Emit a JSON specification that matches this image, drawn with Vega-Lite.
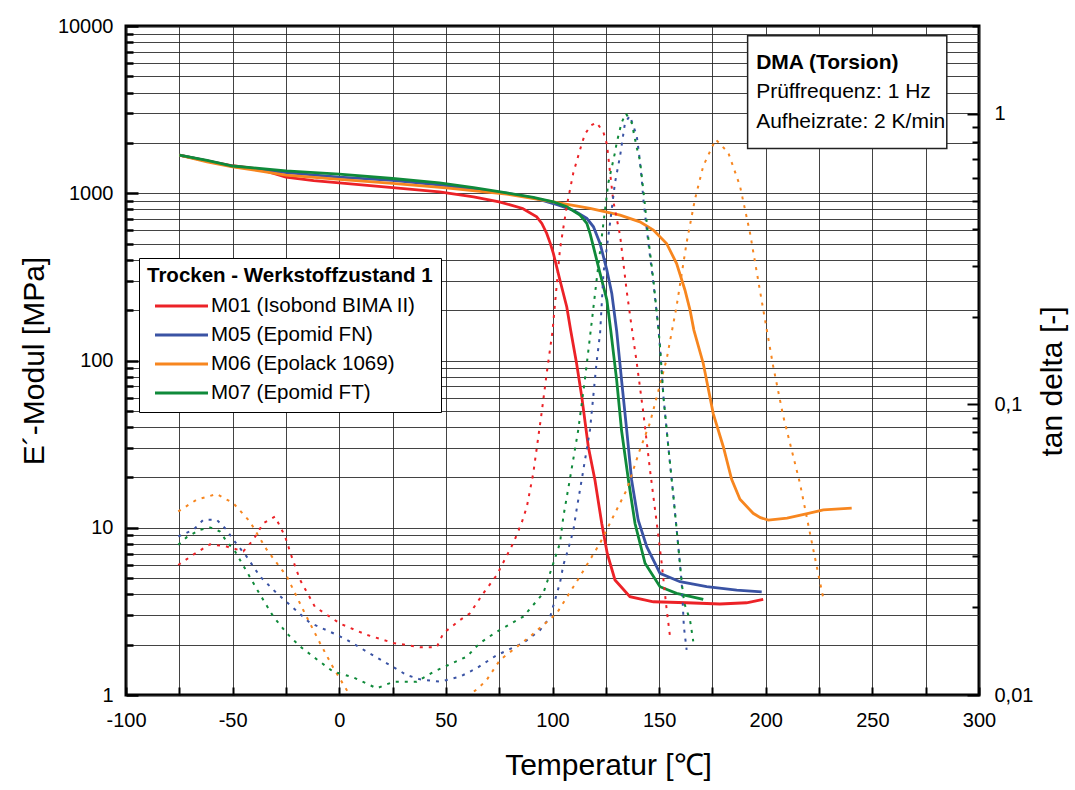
{
  "$schema": "https://vega.github.io/schema/vega-lite/v6.json",
  "width": 853,
  "height": 669,
  "autosize": {"type": "none"},
  "padding": {"left": 126, "top": 26, "right": 96, "bottom": 95},
  "background": "white",
  "config": {
    "view": {"stroke": "#000", "strokeWidth": 3},
    "font": "Liberation Sans",
    "axis": {
      "labelFont": "Liberation Sans",
      "labelFontSize": 20,
      "labelColor": "#000",
      "titleFont": "Liberation Sans",
      "titleFontSize": 30,
      "titleFontWeight": "normal",
      "titleColor": "#000",
      "domain": false,
      "tickColor": "#000",
      "gridColor": "#222",
      "gridWidth": 1,
      "gridOpacity": 0.85,
      "labelFlush": false,
      "labelOverlap": false
    }
  },
  "datasets": {
    "emod": [
      {"s": "M01 (Isobond BIMA II)", "T": -75, "E": 1690},
      {"s": "M01 (Isobond BIMA II)", "T": -62, "E": 1560},
      {"s": "M01 (Isobond BIMA II)", "T": -50, "E": 1460},
      {"s": "M01 (Isobond BIMA II)", "T": -37, "E": 1390},
      {"s": "M01 (Isobond BIMA II)", "T": -25, "E": 1250},
      {"s": "M01 (Isobond BIMA II)", "T": -12, "E": 1190},
      {"s": "M01 (Isobond BIMA II)", "T": 0, "E": 1155},
      {"s": "M01 (Isobond BIMA II)", "T": 25, "E": 1080},
      {"s": "M01 (Isobond BIMA II)", "T": 47, "E": 1019},
      {"s": "M01 (Isobond BIMA II)", "T": 63, "E": 952},
      {"s": "M01 (Isobond BIMA II)", "T": 75, "E": 889},
      {"s": "M01 (Isobond BIMA II)", "T": 86, "E": 811},
      {"s": "M01 (Isobond BIMA II)", "T": 92.6, "E": 722},
      {"s": "M01 (Isobond BIMA II)", "T": 95, "E": 660},
      {"s": "M01 (Isobond BIMA II)", "T": 97.3, "E": 575},
      {"s": "M01 (Isobond BIMA II)", "T": 99, "E": 500},
      {"s": "M01 (Isobond BIMA II)", "T": 100.4, "E": 437},
      {"s": "M01 (Isobond BIMA II)", "T": 103.5, "E": 302},
      {"s": "M01 (Isobond BIMA II)", "T": 106.7, "E": 209},
      {"s": "M01 (Isobond BIMA II)", "T": 108.5, "E": 152},
      {"s": "M01 (Isobond BIMA II)", "T": 111.3, "E": 96},
      {"s": "M01 (Isobond BIMA II)", "T": 113.7, "E": 61},
      {"s": "M01 (Isobond BIMA II)", "T": 116.8, "E": 30.5},
      {"s": "M01 (Isobond BIMA II)", "T": 119.9, "E": 19.3},
      {"s": "M01 (Isobond BIMA II)", "T": 123.1, "E": 10.6},
      {"s": "M01 (Isobond BIMA II)", "T": 125.7, "E": 7.0},
      {"s": "M01 (Isobond BIMA II)", "T": 129.3, "E": 4.87},
      {"s": "M01 (Isobond BIMA II)", "T": 136.3, "E": 3.87},
      {"s": "M01 (Isobond BIMA II)", "T": 147.3, "E": 3.61},
      {"s": "M01 (Isobond BIMA II)", "T": 163, "E": 3.56},
      {"s": "M01 (Isobond BIMA II)", "T": 178.5, "E": 3.5},
      {"s": "M01 (Isobond BIMA II)", "T": 191, "E": 3.56},
      {"s": "M01 (Isobond BIMA II)", "T": 198.8, "E": 3.73},
      {"s": "M05 (Epomid FN)", "T": -75, "E": 1690},
      {"s": "M05 (Epomid FN)", "T": -62, "E": 1560},
      {"s": "M05 (Epomid FN)", "T": -50, "E": 1450},
      {"s": "M05 (Epomid FN)", "T": -25, "E": 1330},
      {"s": "M05 (Epomid FN)", "T": 0, "E": 1250},
      {"s": "M05 (Epomid FN)", "T": 25, "E": 1195},
      {"s": "M05 (Epomid FN)", "T": 50, "E": 1110},
      {"s": "M05 (Epomid FN)", "T": 63, "E": 1060},
      {"s": "M05 (Epomid FN)", "T": 78.5, "E": 1000},
      {"s": "M05 (Epomid FN)", "T": 91, "E": 940},
      {"s": "M05 (Epomid FN)", "T": 100.4, "E": 868},
      {"s": "M05 (Epomid FN)", "T": 109.8, "E": 792},
      {"s": "M05 (Epomid FN)", "T": 116.1, "E": 707},
      {"s": "M05 (Epomid FN)", "T": 119.2, "E": 630},
      {"s": "M05 (Epomid FN)", "T": 122.3, "E": 501},
      {"s": "M05 (Epomid FN)", "T": 125.5, "E": 347},
      {"s": "M05 (Epomid FN)", "T": 127.8, "E": 252},
      {"s": "M05 (Epomid FN)", "T": 130.1, "E": 150},
      {"s": "M05 (Epomid FN)", "T": 132.4, "E": 76},
      {"s": "M05 (Epomid FN)", "T": 134.8, "E": 38.4},
      {"s": "M05 (Epomid FN)", "T": 137.1, "E": 19.3},
      {"s": "M05 (Epomid FN)", "T": 140.2, "E": 11.1},
      {"s": "M05 (Epomid FN)", "T": 144.2, "E": 7.7},
      {"s": "M05 (Epomid FN)", "T": 150.4, "E": 5.34},
      {"s": "M05 (Epomid FN)", "T": 159.8, "E": 4.76},
      {"s": "M05 (Epomid FN)", "T": 172.3, "E": 4.44},
      {"s": "M05 (Epomid FN)", "T": 186.4, "E": 4.24},
      {"s": "M05 (Epomid FN)", "T": 198.1, "E": 4.14},
      {"s": "M06 (Epolack 1069)", "T": -75, "E": 1690},
      {"s": "M06 (Epolack 1069)", "T": -62, "E": 1540},
      {"s": "M06 (Epolack 1069)", "T": -50, "E": 1440},
      {"s": "M06 (Epolack 1069)", "T": -25, "E": 1283},
      {"s": "M06 (Epolack 1069)", "T": 0, "E": 1209},
      {"s": "M06 (Epolack 1069)", "T": 25, "E": 1144},
      {"s": "M06 (Epolack 1069)", "T": 50, "E": 1077},
      {"s": "M06 (Epolack 1069)", "T": 78.5, "E": 988},
      {"s": "M06 (Epolack 1069)", "T": 100.4, "E": 889},
      {"s": "M06 (Epolack 1069)", "T": 117.6, "E": 811},
      {"s": "M06 (Epolack 1069)", "T": 131.7, "E": 740},
      {"s": "M06 (Epolack 1069)", "T": 141, "E": 675},
      {"s": "M06 (Epolack 1069)", "T": 147.3, "E": 602},
      {"s": "M06 (Epolack 1069)", "T": 153.5, "E": 501},
      {"s": "M06 (Epolack 1069)", "T": 158.2, "E": 380},
      {"s": "M06 (Epolack 1069)", "T": 162.1, "E": 264},
      {"s": "M06 (Epolack 1069)", "T": 164.5, "E": 200},
      {"s": "M06 (Epolack 1069)", "T": 166.3, "E": 152},
      {"s": "M06 (Epolack 1069)", "T": 170.7, "E": 96},
      {"s": "M06 (Epolack 1069)", "T": 175.4, "E": 48},
      {"s": "M06 (Epolack 1069)", "T": 180.1, "E": 30.5},
      {"s": "M06 (Epolack 1069)", "T": 184, "E": 19.5},
      {"s": "M06 (Epolack 1069)", "T": 187.9, "E": 14.8},
      {"s": "M06 (Epolack 1069)", "T": 194.1, "E": 12.2},
      {"s": "M06 (Epolack 1069)", "T": 197.5, "E": 11.5},
      {"s": "M06 (Epolack 1069)", "T": 201.2, "E": 11.1},
      {"s": "M06 (Epolack 1069)", "T": 210, "E": 11.4},
      {"s": "M06 (Epolack 1069)", "T": 220, "E": 12.2},
      {"s": "M06 (Epolack 1069)", "T": 227, "E": 12.8},
      {"s": "M06 (Epolack 1069)", "T": 240.3, "E": 13.1},
      {"s": "M07 (Epomid FT)", "T": -75, "E": 1690},
      {"s": "M07 (Epomid FT)", "T": -62, "E": 1570},
      {"s": "M07 (Epomid FT)", "T": -50, "E": 1455},
      {"s": "M07 (Epomid FT)", "T": -25, "E": 1361},
      {"s": "M07 (Epomid FT)", "T": 0, "E": 1300},
      {"s": "M07 (Epomid FT)", "T": 25, "E": 1225},
      {"s": "M07 (Epomid FT)", "T": 47, "E": 1154},
      {"s": "M07 (Epomid FT)", "T": 63, "E": 1082},
      {"s": "M07 (Epomid FT)", "T": 78.5, "E": 1005},
      {"s": "M07 (Epomid FT)", "T": 91, "E": 944},
      {"s": "M07 (Epomid FT)", "T": 100.4, "E": 889},
      {"s": "M07 (Epomid FT)", "T": 106.7, "E": 830},
      {"s": "M07 (Epomid FT)", "T": 112.9, "E": 740},
      {"s": "M07 (Epomid FT)", "T": 116.1, "E": 660},
      {"s": "M07 (Epomid FT)", "T": 117.7, "E": 570},
      {"s": "M07 (Epomid FT)", "T": 119.2, "E": 478},
      {"s": "M07 (Epomid FT)", "T": 122.3, "E": 332},
      {"s": "M07 (Epomid FT)", "T": 125.5, "E": 230},
      {"s": "M07 (Epomid FT)", "T": 127.3, "E": 152},
      {"s": "M07 (Epomid FT)", "T": 130.1, "E": 76},
      {"s": "M07 (Epomid FT)", "T": 132.4, "E": 38},
      {"s": "M07 (Epomid FT)", "T": 135.6, "E": 19.3},
      {"s": "M07 (Epomid FT)", "T": 138.7, "E": 10.6},
      {"s": "M07 (Epomid FT)", "T": 143.4, "E": 6.13},
      {"s": "M07 (Epomid FT)", "T": 150.4, "E": 4.44},
      {"s": "M07 (Epomid FT)", "T": 158.2, "E": 4.05},
      {"s": "M07 (Epomid FT)", "T": 170.7, "E": 3.73}
    ],
    "tand": [
      {"s": "M01 (Isobond BIMA II)", "T": -75.5, "tan": 0.028},
      {"s": "M01 (Isobond BIMA II)", "T": -68.4, "tan": 0.0304},
      {"s": "M01 (Isobond BIMA II)", "T": -60.6, "tan": 0.033},
      {"s": "M01 (Isobond BIMA II)", "T": -52.8, "tan": 0.0324},
      {"s": "M01 (Isobond BIMA II)", "T": -45, "tan": 0.0312},
      {"s": "M01 (Isobond BIMA II)", "T": -40.3, "tan": 0.0342},
      {"s": "M01 (Isobond BIMA II)", "T": -35.6, "tan": 0.039},
      {"s": "M01 (Isobond BIMA II)", "T": -30.1, "tan": 0.0411},
      {"s": "M01 (Isobond BIMA II)", "T": -25.4, "tan": 0.0351},
      {"s": "M01 (Isobond BIMA II)", "T": -22.3, "tan": 0.0299},
      {"s": "M01 (Isobond BIMA II)", "T": -18.4, "tan": 0.0249},
      {"s": "M01 (Isobond BIMA II)", "T": -11.4, "tan": 0.0201},
      {"s": "M01 (Isobond BIMA II)", "T": 0.4, "tan": 0.0176},
      {"s": "M01 (Isobond BIMA II)", "T": 12.9, "tan": 0.0161},
      {"s": "M01 (Isobond BIMA II)", "T": 25.4, "tan": 0.0151},
      {"s": "M01 (Isobond BIMA II)", "T": 37.9, "tan": 0.0146},
      {"s": "M01 (Isobond BIMA II)", "T": 45.7, "tan": 0.0146},
      {"s": "M01 (Isobond BIMA II)", "T": 48.8, "tan": 0.0163},
      {"s": "M01 (Isobond BIMA II)", "T": 56.6, "tan": 0.0181},
      {"s": "M01 (Isobond BIMA II)", "T": 61.3, "tan": 0.0191},
      {"s": "M01 (Isobond BIMA II)", "T": 67.6, "tan": 0.0224},
      {"s": "M01 (Isobond BIMA II)", "T": 73.8, "tan": 0.0258},
      {"s": "M01 (Isobond BIMA II)", "T": 81.6, "tan": 0.0333},
      {"s": "M01 (Isobond BIMA II)", "T": 85.5, "tan": 0.039},
      {"s": "M01 (Isobond BIMA II)", "T": 88, "tan": 0.0445},
      {"s": "M01 (Isobond BIMA II)", "T": 91, "tan": 0.058},
      {"s": "M01 (Isobond BIMA II)", "T": 94.9, "tan": 0.0934},
      {"s": "M01 (Isobond BIMA II)", "T": 97.3, "tan": 0.128},
      {"s": "M01 (Isobond BIMA II)", "T": 100, "tan": 0.178},
      {"s": "M01 (Isobond BIMA II)", "T": 103.5, "tan": 0.341},
      {"s": "M01 (Isobond BIMA II)", "T": 106.7, "tan": 0.481},
      {"s": "M01 (Isobond BIMA II)", "T": 109.8, "tan": 0.627},
      {"s": "M01 (Isobond BIMA II)", "T": 113.7, "tan": 0.785},
      {"s": "M01 (Isobond BIMA II)", "T": 115.2, "tan": 0.849},
      {"s": "M01 (Isobond BIMA II)", "T": 118, "tan": 0.91},
      {"s": "M01 (Isobond BIMA II)", "T": 120.7, "tan": 0.931},
      {"s": "M01 (Isobond BIMA II)", "T": 123.9, "tan": 0.861},
      {"s": "M01 (Isobond BIMA II)", "T": 125.5, "tan": 0.785},
      {"s": "M01 (Isobond BIMA II)", "T": 128.5, "tan": 0.5},
      {"s": "M01 (Isobond BIMA II)", "T": 131.7, "tan": 0.38},
      {"s": "M01 (Isobond BIMA II)", "T": 134.8, "tan": 0.245},
      {"s": "M01 (Isobond BIMA II)", "T": 137.4, "tan": 0.178},
      {"s": "M01 (Isobond BIMA II)", "T": 139.5, "tan": 0.139},
      {"s": "M01 (Isobond BIMA II)", "T": 142.6, "tan": 0.0934},
      {"s": "M01 (Isobond BIMA II)", "T": 145.7, "tan": 0.0596},
      {"s": "M01 (Isobond BIMA II)", "T": 148.9, "tan": 0.039},
      {"s": "M01 (Isobond BIMA II)", "T": 151.2, "tan": 0.0284},
      {"s": "M01 (Isobond BIMA II)", "T": 153.5, "tan": 0.0198},
      {"s": "M01 (Isobond BIMA II)", "T": 155.1, "tan": 0.0159},
      {"s": "M05 (Epomid FN)", "T": -75.5, "tan": 0.0351},
      {"s": "M05 (Epomid FN)", "T": -68.4, "tan": 0.037},
      {"s": "M05 (Epomid FN)", "T": -63.7, "tan": 0.0401},
      {"s": "M05 (Epomid FN)", "T": -57.5, "tan": 0.0401},
      {"s": "M05 (Epomid FN)", "T": -52.8, "tan": 0.037},
      {"s": "M05 (Epomid FN)", "T": -49.7, "tan": 0.0342},
      {"s": "M05 (Epomid FN)", "T": -43.4, "tan": 0.0299},
      {"s": "M05 (Epomid FN)", "T": -37.2, "tan": 0.0256},
      {"s": "M05 (Epomid FN)", "T": -29.3, "tan": 0.0224},
      {"s": "M05 (Epomid FN)", "T": -21.5, "tan": 0.0199},
      {"s": "M05 (Epomid FN)", "T": -13.7, "tan": 0.0177},
      {"s": "M05 (Epomid FN)", "T": -4.3, "tan": 0.0165},
      {"s": "M05 (Epomid FN)", "T": 3.5, "tan": 0.0155},
      {"s": "M05 (Epomid FN)", "T": 12.9, "tan": 0.0141},
      {"s": "M05 (Epomid FN)", "T": 22.3, "tan": 0.01285},
      {"s": "M05 (Epomid FN)", "T": 31.6, "tan": 0.01172},
      {"s": "M05 (Epomid FN)", "T": 37.9, "tan": 0.01132},
      {"s": "M05 (Epomid FN)", "T": 47.2, "tan": 0.01111},
      {"s": "M05 (Epomid FN)", "T": 56.6, "tan": 0.01156},
      {"s": "M05 (Epomid FN)", "T": 64.4, "tan": 0.01236},
      {"s": "M05 (Epomid FN)", "T": 73.8, "tan": 0.0137},
      {"s": "M05 (Epomid FN)", "T": 86.3, "tan": 0.0151},
      {"s": "M05 (Epomid FN)", "T": 94.1, "tan": 0.0167},
      {"s": "M05 (Epomid FN)", "T": 98.8, "tan": 0.0185},
      {"s": "M05 (Epomid FN)", "T": 103.5, "tan": 0.0243},
      {"s": "M05 (Epomid FN)", "T": 105.1, "tan": 0.028},
      {"s": "M05 (Epomid FN)", "T": 108.2, "tan": 0.0333},
      {"s": "M05 (Epomid FN)", "T": 109.8, "tan": 0.037},
      {"s": "M05 (Epomid FN)", "T": 111.3, "tan": 0.0434},
      {"s": "M05 (Epomid FN)", "T": 113.7, "tan": 0.055},
      {"s": "M05 (Epomid FN)", "T": 117.6, "tan": 0.0818},
      {"s": "M05 (Epomid FN)", "T": 120.7, "tan": 0.14},
      {"s": "M05 (Epomid FN)", "T": 122.3, "tan": 0.175},
      {"s": "M05 (Epomid FN)", "T": 123.9, "tan": 0.283},
      {"s": "M05 (Epomid FN)", "T": 127, "tan": 0.421},
      {"s": "M05 (Epomid FN)", "T": 129.3, "tan": 0.578},
      {"s": "M05 (Epomid FN)", "T": 131.7, "tan": 0.715},
      {"s": "M05 (Epomid FN)", "T": 134, "tan": 0.93},
      {"s": "M05 (Epomid FN)", "T": 136.3, "tan": 0.982},
      {"s": "M05 (Epomid FN)", "T": 139.5, "tan": 0.838},
      {"s": "M05 (Epomid FN)", "T": 140.7, "tan": 0.715},
      {"s": "M05 (Epomid FN)", "T": 141.8, "tan": 0.602},
      {"s": "M05 (Epomid FN)", "T": 142.6, "tan": 0.507},
      {"s": "M05 (Epomid FN)", "T": 144.2, "tan": 0.4},
      {"s": "M05 (Epomid FN)", "T": 145.7, "tan": 0.324},
      {"s": "M05 (Epomid FN)", "T": 147.3, "tan": 0.262},
      {"s": "M05 (Epomid FN)", "T": 149.7, "tan": 0.181},
      {"s": "M05 (Epomid FN)", "T": 150.4, "tan": 0.158},
      {"s": "M05 (Epomid FN)", "T": 152, "tan": 0.1066},
      {"s": "M05 (Epomid FN)", "T": 154.3, "tan": 0.0716},
      {"s": "M05 (Epomid FN)", "T": 156.7, "tan": 0.0482},
      {"s": "M05 (Epomid FN)", "T": 159, "tan": 0.0324},
      {"s": "M05 (Epomid FN)", "T": 160.6, "tan": 0.0243},
      {"s": "M05 (Epomid FN)", "T": 161.6, "tan": 0.0172},
      {"s": "M05 (Epomid FN)", "T": 162.9, "tan": 0.0143},
      {"s": "M06 (Epolack 1069)", "T": -75.5, "tan": 0.0428},
      {"s": "M06 (Epolack 1069)", "T": -66.8, "tan": 0.047},
      {"s": "M06 (Epolack 1069)", "T": -57.5, "tan": 0.0491},
      {"s": "M06 (Epolack 1069)", "T": -49.7, "tan": 0.0457},
      {"s": "M06 (Epolack 1069)", "T": -41.9, "tan": 0.0395},
      {"s": "M06 (Epolack 1069)", "T": -34, "tan": 0.0316},
      {"s": "M06 (Epolack 1069)", "T": -24.6, "tan": 0.0256},
      {"s": "M06 (Epolack 1069)", "T": -16.9, "tan": 0.0196},
      {"s": "M06 (Epolack 1069)", "T": -9, "tan": 0.01507},
      {"s": "M06 (Epolack 1069)", "T": -3.1, "tan": 0.01252},
      {"s": "M06 (Epolack 1069)", "T": 3.5, "tan": 0.0104},
      {"s": "M06 (Epolack 1069)", "T": 10, "tan": 0.0088},
      {"s": "M06 (Epolack 1069)", "T": 20, "tan": 0.0078},
      {"s": "M06 (Epolack 1069)", "T": 35, "tan": 0.0074},
      {"s": "M06 (Epolack 1069)", "T": 50, "tan": 0.008},
      {"s": "M06 (Epolack 1069)", "T": 58, "tan": 0.0093},
      {"s": "M06 (Epolack 1069)", "T": 61.3, "tan": 0.01},
      {"s": "M06 (Epolack 1069)", "T": 66, "tan": 0.0107},
      {"s": "M06 (Epolack 1069)", "T": 69.1, "tan": 0.01126},
      {"s": "M06 (Epolack 1069)", "T": 75.4, "tan": 0.0132},
      {"s": "M06 (Epolack 1069)", "T": 89.5, "tan": 0.0159},
      {"s": "M06 (Epolack 1069)", "T": 102, "tan": 0.0191},
      {"s": "M06 (Epolack 1069)", "T": 112.9, "tan": 0.0256},
      {"s": "M06 (Epolack 1069)", "T": 122.3, "tan": 0.0333},
      {"s": "M06 (Epolack 1069)", "T": 128.5, "tan": 0.0411},
      {"s": "M06 (Epolack 1069)", "T": 134.8, "tan": 0.0508},
      {"s": "M06 (Epolack 1069)", "T": 141, "tan": 0.0698},
      {"s": "M06 (Epolack 1069)", "T": 145.7, "tan": 0.0863},
      {"s": "M06 (Epolack 1069)", "T": 153.5, "tan": 0.1426},
      {"s": "M06 (Epolack 1069)", "T": 158.2, "tan": 0.2175},
      {"s": "M06 (Epolack 1069)", "T": 162.9, "tan": 0.36},
      {"s": "M06 (Epolack 1069)", "T": 166.8, "tan": 0.507},
      {"s": "M06 (Epolack 1069)", "T": 170.7, "tan": 0.66},
      {"s": "M06 (Epolack 1069)", "T": 176.5, "tan": 0.815},
      {"s": "M06 (Epolack 1069)", "T": 182.4, "tan": 0.734},
      {"s": "M06 (Epolack 1069)", "T": 187.9, "tan": 0.564},
      {"s": "M06 (Epolack 1069)", "T": 192.6, "tan": 0.389},
      {"s": "M06 (Epolack 1069)", "T": 198.8, "tan": 0.212},
      {"s": "M06 (Epolack 1069)", "T": 203.5, "tan": 0.135},
      {"s": "M06 (Epolack 1069)", "T": 208.2, "tan": 0.091},
      {"s": "M06 (Epolack 1069)", "T": 212.5, "tan": 0.068},
      {"s": "M06 (Epolack 1069)", "T": 216, "tan": 0.0536},
      {"s": "M06 (Epolack 1069)", "T": 222.3, "tan": 0.0316},
      {"s": "M06 (Epolack 1069)", "T": 227, "tan": 0.0215},
      {"s": "M07 (Epomid FT)", "T": -75.5, "tan": 0.0329},
      {"s": "M07 (Epomid FT)", "T": -71.5, "tan": 0.0349},
      {"s": "M07 (Epomid FT)", "T": -65.3, "tan": 0.037},
      {"s": "M07 (Epomid FT)", "T": -60.6, "tan": 0.0377},
      {"s": "M07 (Epomid FT)", "T": -55.9, "tan": 0.0365},
      {"s": "M07 (Epomid FT)", "T": -52.8, "tan": 0.0337},
      {"s": "M07 (Epomid FT)", "T": -48.9, "tan": 0.0312},
      {"s": "M07 (Epomid FT)", "T": -43.4, "tan": 0.0266},
      {"s": "M07 (Epomid FT)", "T": -38, "tan": 0.0227},
      {"s": "M07 (Epomid FT)", "T": -30.9, "tan": 0.0186},
      {"s": "M07 (Epomid FT)", "T": -24.6, "tan": 0.0163},
      {"s": "M07 (Epomid FT)", "T": -18.4, "tan": 0.0147},
      {"s": "M07 (Epomid FT)", "T": -10.6, "tan": 0.01327},
      {"s": "M07 (Epomid FT)", "T": -2.8, "tan": 0.01203},
      {"s": "M07 (Epomid FT)", "T": 6.6, "tan": 0.0115},
      {"s": "M07 (Epomid FT)", "T": 17.6, "tan": 0.01054},
      {"s": "M07 (Epomid FT)", "T": 25.4, "tan": 0.01111},
      {"s": "M07 (Epomid FT)", "T": 36.3, "tan": 0.01111},
      {"s": "M07 (Epomid FT)", "T": 44.1, "tan": 0.012},
      {"s": "M07 (Epomid FT)", "T": 51.2, "tan": 0.01268},
      {"s": "M07 (Epomid FT)", "T": 59.8, "tan": 0.01355},
      {"s": "M07 (Epomid FT)", "T": 66, "tan": 0.0151},
      {"s": "M07 (Epomid FT)", "T": 73.8, "tan": 0.0165},
      {"s": "M07 (Epomid FT)", "T": 86.3, "tan": 0.0186},
      {"s": "M07 (Epomid FT)", "T": 95.7, "tan": 0.0224},
      {"s": "M07 (Epomid FT)", "T": 100.4, "tan": 0.0284},
      {"s": "M07 (Epomid FT)", "T": 103.5, "tan": 0.0333},
      {"s": "M07 (Epomid FT)", "T": 105.1, "tan": 0.0411},
      {"s": "M07 (Epomid FT)", "T": 108.2, "tan": 0.0555},
      {"s": "M07 (Epomid FT)", "T": 112.1, "tan": 0.0818},
      {"s": "M07 (Epomid FT)", "T": 115.2, "tan": 0.1217},
      {"s": "M07 (Epomid FT)", "T": 117.6, "tan": 0.171},
      {"s": "M07 (Epomid FT)", "T": 120.7, "tan": 0.268},
      {"s": "M07 (Epomid FT)", "T": 123.9, "tan": 0.421},
      {"s": "M07 (Epomid FT)", "T": 126.2, "tan": 0.578},
      {"s": "M07 (Epomid FT)", "T": 129.3, "tan": 0.734},
      {"s": "M07 (Epomid FT)", "T": 130.1, "tan": 0.793},
      {"s": "M07 (Epomid FT)", "T": 132.4, "tan": 0.931},
      {"s": "M07 (Epomid FT)", "T": 134.4, "tan": 1.0},
      {"s": "M07 (Epomid FT)", "T": 137.1, "tan": 0.931},
      {"s": "M07 (Epomid FT)", "T": 139.5, "tan": 0.764},
      {"s": "M07 (Epomid FT)", "T": 141, "tan": 0.69},
      {"s": "M07 (Epomid FT)", "T": 143.4, "tan": 0.481},
      {"s": "M07 (Epomid FT)", "T": 145, "tan": 0.369},
      {"s": "M07 (Epomid FT)", "T": 147.3, "tan": 0.268},
      {"s": "M07 (Epomid FT)", "T": 149.7, "tan": 0.181},
      {"s": "M07 (Epomid FT)", "T": 150.4, "tan": 0.158},
      {"s": "M07 (Epomid FT)", "T": 152, "tan": 0.1066},
      {"s": "M07 (Epomid FT)", "T": 154.3, "tan": 0.0716},
      {"s": "M07 (Epomid FT)", "T": 156.7, "tan": 0.0482},
      {"s": "M07 (Epomid FT)", "T": 159, "tan": 0.0324},
      {"s": "M07 (Epomid FT)", "T": 160.6, "tan": 0.0243},
      {"s": "M07 (Epomid FT)", "T": 161.8, "tan": 0.0207},
      {"s": "M07 (Epomid FT)", "T": 164.5, "tan": 0.0181},
      {"s": "M07 (Epomid FT)", "T": 166, "tan": 0.0153}
    ],
    "box": [{"T": 191.5, "T2": 284.9, "E": 8730, "E2": 1853}],
    "notes": [
      {"T": 195.5, "E": 5995, "txt": "DMA (Torsion)", "role": "title"},
      {"T": 195.5, "E": 4020, "txt": "Prüffrequenz: 1 Hz", "role": "line"},
      {"T": 195.5, "E": 2661, "txt": "Aufheizrate: 2 K/min", "role": "line"}
    ]
  },
  "encoding": {
    "x": {
      "field": "T",
      "type": "quantitative",
      "scale": {"domain": [-100, 300], "nice": false, "zero": false},
      "axis": {
        "title": "Temperatur [℃]",
        "values": [-100, -75, -50, -25, 0, 25, 50, 75, 100, 125, 150, 175, 200, 225, 250, 275, 300],
        "labelExpr": "datum.value % 50 == 0 ? '' + datum.value : ''",
        "grid": true,
        "tickSize": -8,
        "tickWidth": 2,
        "labelPadding": 23,
        "titlePadding": 20,
        "titleX": 482
      }
    }
  },
  "layer": [
    {
      "data": {"name": "emod"},
      "mark": {"type": "line", "strokeWidth": 2.8, "clip": true},
      "encoding": {
        "y": {
          "field": "E",
          "type": "quantitative",
          "scale": {"type": "log", "domain": [1, 10000], "nice": false},
          "axis": {
            "title": "E´-Modul [MPa]",
            "orient": "left",
            "values": [1, 2, 3, 4, 5, 6, 7, 8, 9, 10, 20, 30, 40, 50, 60, 70, 80, 90, 100, 200, 300, 400, 500, 600, 700, 800, 900, 1000, 2000, 3000, 4000, 5000, 6000, 7000, 8000, 9000, 10000],
            "labelExpr": "indexof([1, 10, 100, 1000, 10000], datum.value) >= 0 ? '' + datum.value : ''",
            "grid": true,
            "tickSize": {"condition": {"test": "indexof([1, 10, 100, 1000, 10000], datum.value) >= 0", "value": -12}, "value": -7},
            "tickWidth": 2.5,
            "labelPadding": 25,
            "titlePadding": 8
          }
        },
        "color": {
          "field": "s",
          "type": "nominal",
          "scale": {
            "domain": ["M01 (Isobond BIMA II)", "M05 (Epomid FN)", "M06 (Epolack 1069)", "M07 (Epomid FT)"],
            "range": ["#ec2227", "#3a53a4", "#f7861f", "#0f8a3a"]
          },
          "legend": {
            "title": "Trocken - Werkstoffzustand 1",
            "orient": "none",
            "legendX": 13,
            "legendY": 232,
            "padding": 8,
            "strokeColor": "#000",
            "fillColor": "#fff",
            "titleFont": "Liberation Sans",
            "titleFontSize": 20.5,
            "titleFontWeight": "bold",
            "titleColor": "#000",
            "titlePadding": 8,
            "titleLimit": 600,
            "labelFont": "Liberation Sans",
            "labelFontSize": 20.5,
            "labelColor": "#000",
            "labelLimit": 600,
            "symbolType": "M-2.65,0H2.65",
            "symbolSize": 400,
            "symbolStrokeWidth": 3,
            "symbolOffset": 23,
            "labelOffset": 18,
            "rowPadding": 7
          }
        }
      }
    },
    {
      "data": {"name": "tand"},
      "mark": {"type": "line", "strokeWidth": 2, "strokeDash": [3, 6], "clip": true},
      "encoding": {
        "y": {
          "field": "tan",
          "type": "quantitative",
          "scale": {"type": "log", "domain": [0.01, 2], "nice": false},
          "axis": {
            "title": "tan delta [-]",
            "orient": "right",
            "values": [0.01, 0.02, 0.03, 0.04, 0.05, 0.06, 0.07, 0.08, 0.09, 0.1, 0.2, 0.3, 0.4, 0.5, 0.6, 0.7, 0.8, 0.9, 1, 2],
            "labelExpr": "datum.value == 1 ? '1' : datum.value == 0.1 ? '0,1' : datum.value == 0.01 ? '0,01' : ''",
            "grid": false,
            "tickSize": {"condition": {"test": "indexof([0.01, 0.1, 1], datum.value) >= 0", "value": -12}, "value": -7},
            "tickWidth": 2,
            "labelPadding": 27,
            "titlePadding": 5,
            "titleAngle": -90,
            "titleBaseline": "top",
            "titleY": 355
          }
        },
        "color": {
          "field": "s",
          "type": "nominal",
          "scale": {
            "domain": ["M01 (Isobond BIMA II)", "M05 (Epomid FN)", "M06 (Epolack 1069)", "M07 (Epomid FT)"],
            "range": ["#ec2227", "#3a53a4", "#f7861f", "#0f8a3a"]
          },
          "legend": {
            "title": "Trocken - Werkstoffzustand 1",
            "orient": "none",
            "legendX": 13,
            "legendY": 232,
            "padding": 8,
            "strokeColor": "#000",
            "fillColor": "#fff",
            "titleFont": "Liberation Sans",
            "titleFontSize": 20.5,
            "titleFontWeight": "bold",
            "titleColor": "#000",
            "titlePadding": 8,
            "titleLimit": 600,
            "labelFont": "Liberation Sans",
            "labelFontSize": 20.5,
            "labelColor": "#000",
            "labelLimit": 600,
            "symbolType": "M-2.65,0H2.65",
            "symbolSize": 400,
            "symbolStrokeWidth": 3,
            "symbolOffset": 23,
            "labelOffset": 18,
            "rowPadding": 7
          }
        }
      }
    },
    {
      "data": {"name": "box"},
      "mark": {"type": "rect", "fill": "#fff", "stroke": "#222", "strokeWidth": 1.5},
      "encoding": {
        "x2": {"field": "T2"},
        "y": {"field": "E", "type": "quantitative", "scale": {"type": "log", "domain": [1, 10000], "nice": false}, "axis": null},
        "y2": {"field": "E2"}
      }
    },
    {
      "data": {"name": "notes"},
      "transform": [{"filter": "datum.role == 'title'"}],
      "mark": {"type": "text", "align": "left", "baseline": "middle", "font": "Liberation Sans", "fontSize": 21, "fontWeight": "bold", "color": "#000"},
      "encoding": {
        "y": {"field": "E", "type": "quantitative", "scale": {"type": "log", "domain": [1, 10000], "nice": false}, "axis": null},
        "text": {"field": "txt"}
      }
    },
    {
      "data": {"name": "notes"},
      "transform": [{"filter": "datum.role == 'line'"}],
      "mark": {"type": "text", "align": "left", "baseline": "middle", "font": "Liberation Sans", "fontSize": 21, "color": "#000"},
      "encoding": {
        "y": {"field": "E", "type": "quantitative", "scale": {"type": "log", "domain": [1, 10000], "nice": false}, "axis": null},
        "text": {"field": "txt"}
      }
    }
  ],
  "resolve": {"scale": {"y": "independent"}}
}
